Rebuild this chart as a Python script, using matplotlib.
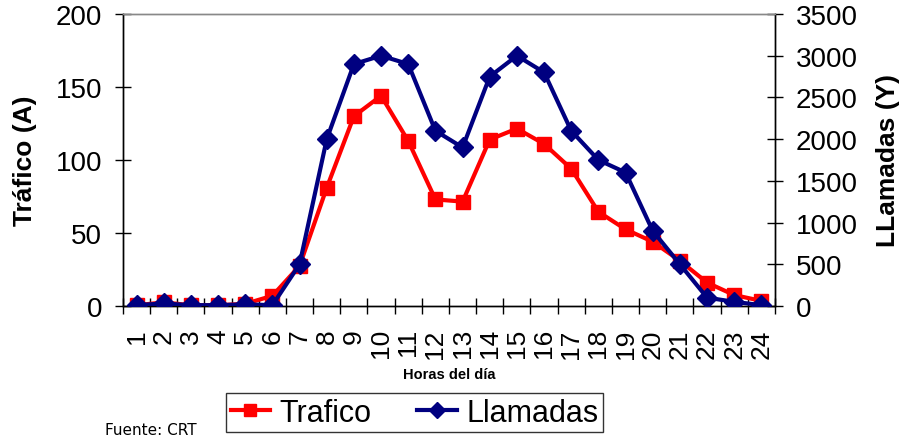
import matplotlib.pyplot as plt
import numpy as np

plt.rcParams['font.family'] = ['Liberation Sans', 'DejaVu Sans']

# Data
horas = list(range(1, 25))
trafico = [0.5, 2.5, 0.5, 0.5, 1.5, 7, 27.5, 81, 130, 144, 113, 73, 71.5, 114,
           121.5, 111, 94, 64.5, 52.5, 44, 31, 16, 7.5, 3.5]
llamadas = [10, 30, 10, 10, 20, 10, 500, 2000, 2900, 3000, 2900, 2100, 1900, 2750,
            3000, 2800, 2100, 1750, 1600, 900, 500, 100, 50, 10]

fig = plt.figure(figsize=(9.04, 4.39), dpi=100)
ax = fig.add_axes([123 / 904, 1 - 307 / 439, (775 - 123) / 904, (307 - 15) / 439])
ax2 = ax.twinx()

l1, = ax.plot(horas, trafico, color='#ff0000', lw=3, marker='s', ms=10,
              label='Trafico', zorder=3)
l2, = ax2.plot(horas, llamadas, color='#000080', lw=3, marker='D', ms=10,
               label='Llamadas', zorder=4)

ax.set_xlim(0.5, 24.5)
ax.set_ylim(0, 200)
ax2.set_ylim(0, 3500)
ax.set_yticks(range(0, 201, 50))
ax2.set_yticks(range(0, 3501, 500))

# category boundaries as major ticks, labels at category centers
ax.set_xticks(np.arange(0.5, 25, 1))
ax.set_xticklabels([])
ax.set_xticks(horas, minor=True)
ax.set_xticklabels([str(h) for h in horas], minor=True, rotation=90, fontsize=19)
ax.tick_params(axis='x', which='major', direction='inout', length=12, width=1)
ax.tick_params(axis='x', which='minor', length=0, pad=16)
ax.tick_params(axis='y', direction='inout', length=12, width=1, labelsize=20, pad=9)
ax2.tick_params(axis='y', direction='inout', length=12, width=1, labelsize=20, pad=9)

for a in (ax, ax2):
    a.spines['top'].set_color('#888888')
    a.spines['top'].set_linewidth(1)
    for s in ('left', 'right', 'bottom'):
        a.spines[s].set_linewidth(1)

fig.text(25 / 904, 1 - 161 / 439, 'Tráfico (A)', rotation=90, fontsize=19,
         fontweight='bold', ha='center', va='center')
fig.text(888 / 904, 1 - 161 / 439, 'LLamadas (Y)', rotation=90, fontsize=19,
         fontweight='bold', ha='center', va='center')
fig.text(449 / 904, 1 - 375 / 439, 'Horas del día', fontsize=10.5,
         fontweight='bold', ha='center', va='center')
fig.text(105 / 904, 1 - 431 / 439, 'Fuente: CRT', fontsize=11,
         family='DejaVu Sans', ha='left', va='center')

leg = fig.legend([l1, l2], ['Trafico', 'Llamadas'], ncol=2, loc='upper left',
                 bbox_to_anchor=(226 / 904, 1 - 394 / 439), fontsize=22,
                 frameon=True, fancybox=False, edgecolor='black',
                 handlelength=1.3, handletextpad=0.3, columnspacing=1.5,
                 borderpad=0.15, borderaxespad=0, markerscale=0.8)
leg.get_frame().set_linewidth(1)

fig.savefig('out.png', dpi=100)
